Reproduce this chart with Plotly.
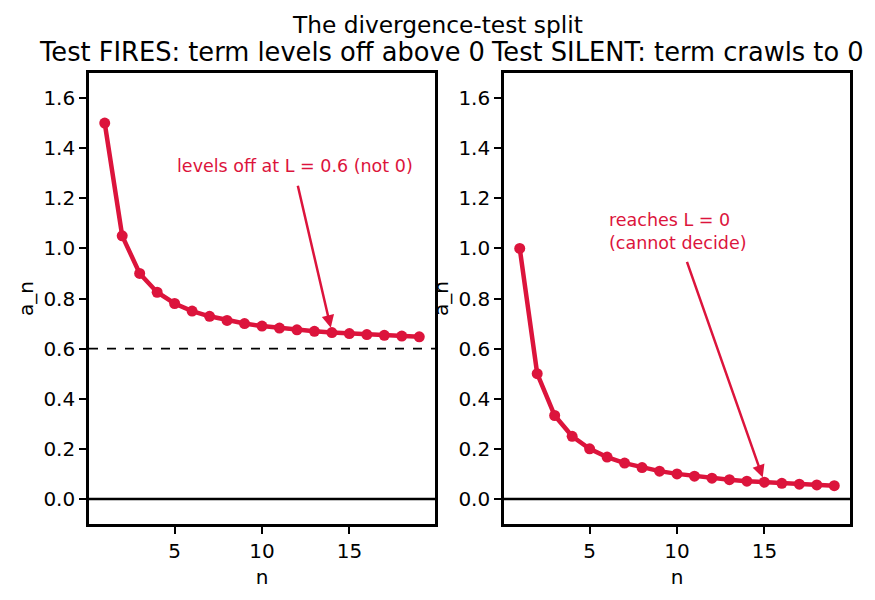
import plotly.graph_objects as go

# ---- data ----
n_vals = list(range(1, 20))
fires_vals = [1.5, 1.05, 0.9, 0.825, 0.78, 0.75, 0.729, 0.7125, 0.70, 0.69,
              0.682, 0.675, 0.669, 0.664, 0.66, 0.656, 0.653, 0.65, 0.647]
silent_vals = [1.0, 0.5, 0.333, 0.25, 0.2, 0.167, 0.143, 0.125, 0.111, 0.1,
               0.091, 0.083, 0.077, 0.071, 0.067, 0.0625, 0.059, 0.056, 0.053]
limit_fires = 0.6
suptitle = "The divergence-test split"
titles = ["Test FIRES: term levels off above 0", "Test SILENT: term crawls to 0"]
y_ticks = [0.0, 0.2, 0.4, 0.6, 0.8, 1.0, 1.2, 1.4, 1.6]
x_ticks = [5, 10, 15]

RED = "#DC143C"
FONT = "DejaVu Sans"
W, H = 875, 600

dom_x1 = [89 / W, 435 / W]
dom_x2 = [504 / W, 850 / W]
dom_y = [1 - 524 / H, 1 - 73 / H]

fig = go.Figure()
for vals, xa, ya in [(fires_vals, "x", "y"), (silent_vals, "x2", "y2")]:
    fig.add_trace(go.Scatter(
        x=n_vals, y=vals, xaxis=xa, yaxis=ya, mode="lines+markers",
        line=dict(color=RED, width=4.5),
        marker=dict(color=RED, size=11),
        showlegend=False,
    ))

axis_common = dict(
    showline=True, mirror=True, linecolor="black", linewidth=2.6,
    ticks="outside", ticklen=7, tickwidth=1.6, tickcolor="black",
    showgrid=False, zeroline=False,
    tickfont=dict(family=FONT, size=20, color="black"),
)
xcommon = dict(axis_common, range=[0.1, 19.9], tickvals=x_ticks,
               title=dict(text="n", font=dict(family=FONT, size=20, color="black"), standoff=9))
ycommon = dict(axis_common, range=[-0.1, 1.7], tickvals=y_ticks,
               ticktext=[f"{v:.1f}" for v in y_ticks],
               title=dict(text="a_n", font=dict(family=FONT, size=20, color="black"), standoff=5))

fig.update_layout(
    width=W, height=H,
    margin=dict(l=0, r=0, t=0, b=0),
    paper_bgcolor="white", plot_bgcolor="white",
    font=dict(family=FONT, color="black"),
    xaxis=dict(xcommon, domain=dom_x1, anchor="y"),
    yaxis=dict(ycommon, domain=dom_y, anchor="x"),
    xaxis2=dict(xcommon, domain=dom_x2, anchor="y2"),
    yaxis2=dict(ycommon, domain=dom_y, anchor="x2"),
)

# reference lines
fig.add_shape(type="line", xref="x domain", yref="y", x0=0, x1=1, y0=0, y1=0,
              line=dict(color="black", width=2.4), layer="below")
fig.add_shape(type="line", xref="x domain", yref="y", x0=0, x1=1,
              y0=limit_fires, y1=limit_fires,
              line=dict(color="black", width=1.8, dash="dash"), layer="below")
fig.add_shape(type="line", xref="x2 domain", yref="y2", x0=0, x1=1, y0=0, y1=0,
              line=dict(color="black", width=2.4), layer="below")

# titles
fig.add_annotation(text=suptitle, xref="paper", yref="paper", x=0.5, y=1 - 24 / H,
                   xanchor="center", yanchor="middle", showarrow=False,
                   font=dict(family=FONT, size=23.3, color="black"))
for t, dom in zip(titles, [dom_x1, dom_x2]):
    fig.add_annotation(text=t, xref="paper", yref="paper", x=(dom[0] + dom[1]) / 2,
                       y=1 - 52 / H, xanchor="center", yanchor="middle", showarrow=False,
                       font=dict(family=FONT, size=25.7, color="black"))

# annotations
fig.add_annotation(text="levels off at L = 0.6 (not 0)", xref="x", yref="y",
                   x=5, y=1.3, xanchor="left", yanchor="bottom", yshift=-5,
                   showarrow=False, font=dict(family=FONT, size=17.5, color=RED))
fig.add_annotation(text="", xref="x", yref="y", x=n_vals[13], y=fires_vals[13],
                   axref="x", ayref="y", ax=12.03, ay=1.256, showarrow=True,
                   arrowhead=2, arrowsize=1, arrowwidth=2.5, arrowcolor=RED, standoff=5)
fig.add_annotation(text="reaches L = 0<br>(cannot decide)", xref="x2", yref="y2",
                   x=6, y=1.0, xanchor="left", yanchor="bottom", yshift=-7, align="left",
                   showarrow=False, font=dict(family=FONT, size=17.5, color=RED))
fig.add_annotation(text="", xref="x2", yref="y2", x=n_vals[14], y=silent_vals[14],
                   axref="x2", ayref="y2", ax=10.54, ay=0.9525, showarrow=True,
                   arrowhead=2, arrowsize=1, arrowwidth=2.5, arrowcolor=RED, standoff=5)

fig.write_html("out.html")
